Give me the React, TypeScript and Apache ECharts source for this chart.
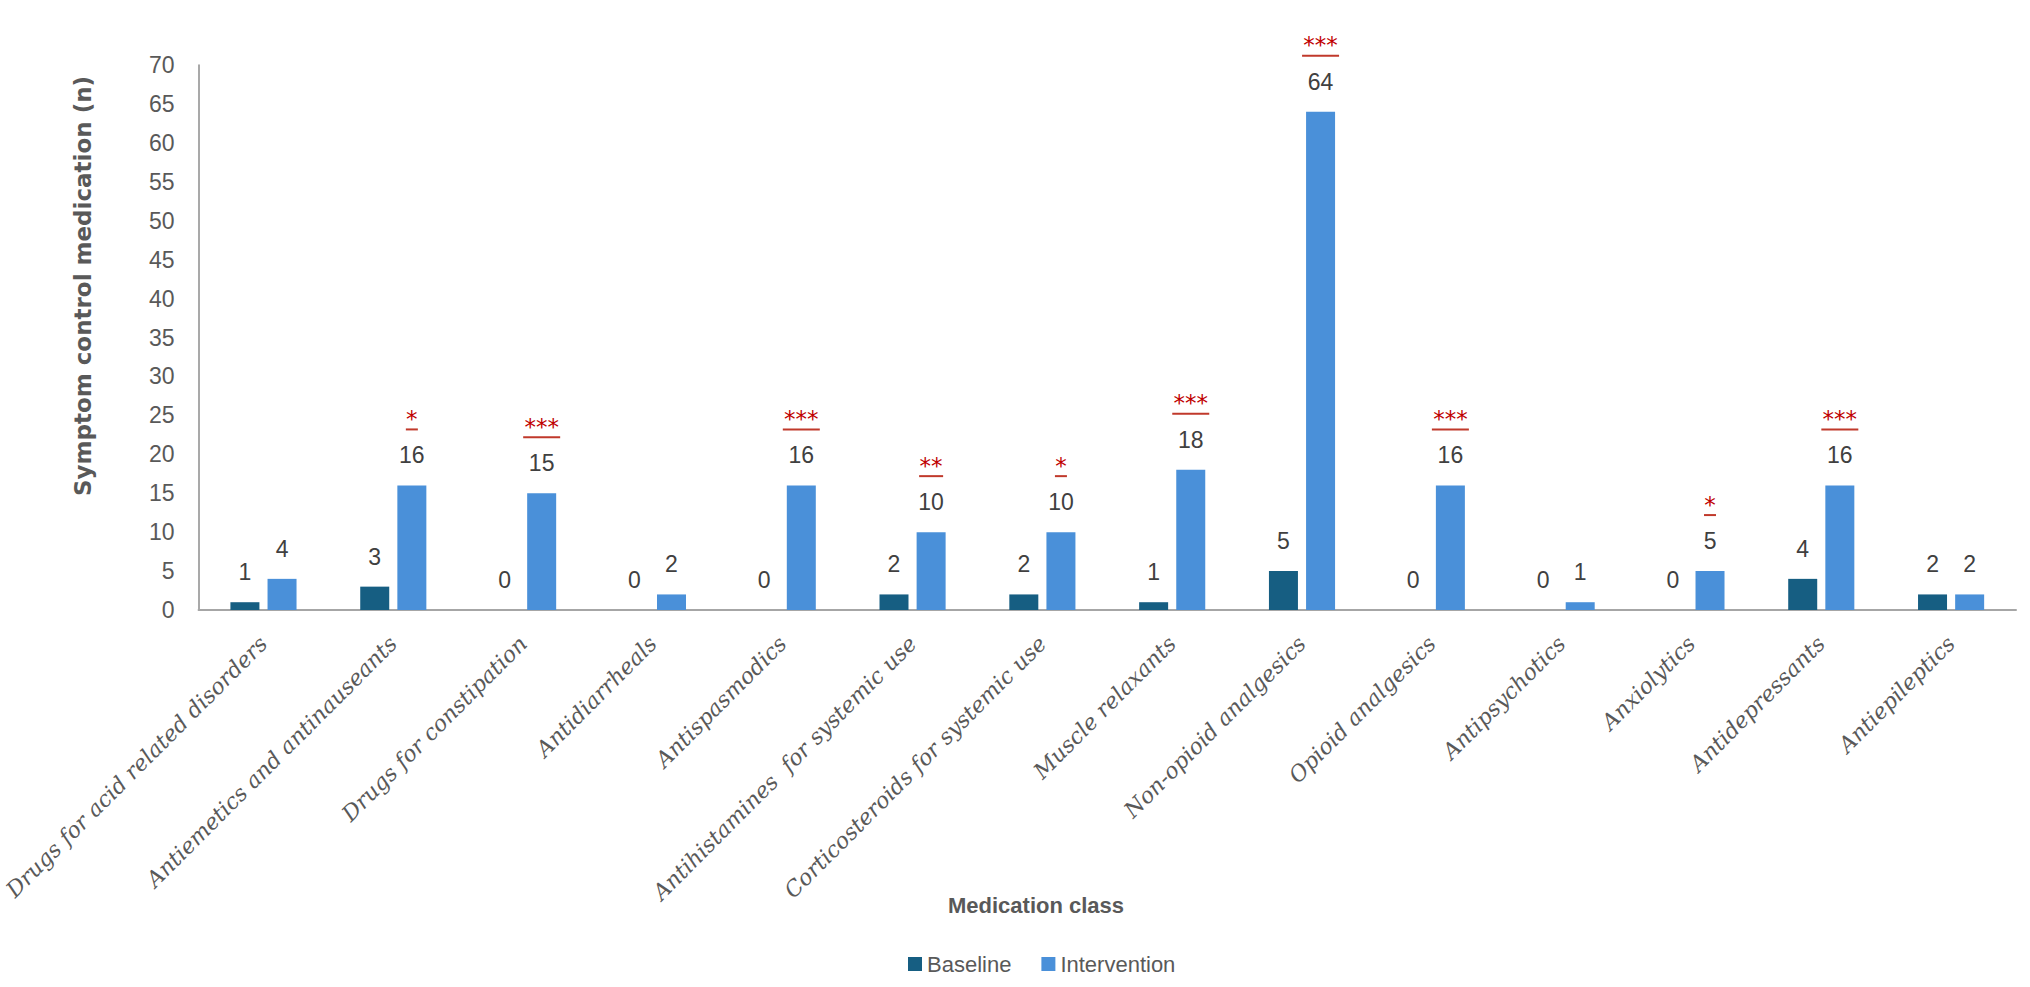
import React, { useEffect, useRef } from "react";
import * as echarts from "echarts";

const categories = [
  "Drugs for acid related disorders",
  "Antiemetics and antinauseants",
  "Drugs for constipation",
  "Antidiarrheals",
  "Antispasmodics",
  "Antihistamines  for systemic use",
  "Corticosteroids for systemic use",
  "Muscle relaxants",
  "Non-opioid analgesics",
  "Opioid analgesics",
  "Antipsychotics",
  "Anxiolytics",
  "Antidepressants",
  "Antiepileptics",
];
const baseline = [1, 3, 0, 0, 0, 2, 2, 1, 5, 0, 0, 0, 4, 2];
const intervention = [4, 16, 15, 2, 16, 10, 10, 18, 64, 16, 1, 5, 16, 2];
const significance = ["", "*", "***", "", "***", "**", "*", "***", "***", "***", "", "*", "***", ""];
const yTicks = { min: 0, max: 70, interval: 5 };

const GRAY = "#595959";
const RED = "#C00000";

const rich = {
  s: { fontFamily: "DejaVu Sans", fontSize: 23, color: RED, lineHeight: 13, align: "center" },
  u1: { width: 12, height: 2, backgroundColor: "#C0392B", lineHeight: 8, align: "center" },
  u2: { width: 24, height: 2, backgroundColor: "#C0392B", lineHeight: 8, align: "center" },
  u3: { width: 37, height: 2, backgroundColor: "#C0392B", lineHeight: 8, align: "center" },
  v: { fontFamily: "Liberation Sans", fontSize: 23, color: "#404040", lineHeight: 44, align: "center" },
};

export default function App() {
  const ref = useRef<HTMLDivElement>(null);
  useEffect(() => {
    if (!ref.current) return;
    const chart = echarts.init(ref.current, undefined, { renderer: "svg" });
    chart.setOption({
      animation: false,
      backgroundColor: "#ffffff",
      grid: { left: 194, right: 14, top: 65, bottom: 377, containLabel: false },
      legend: {
        data: ["Baseline", "Intervention"],
        left: 903,
        top: 948,
        itemWidth: 14,
        itemHeight: 14,
        itemGap: 30,
        icon: "rect",
        textStyle: { fontFamily: "Liberation Sans", fontSize: 22, color: GRAY },
      },
      xAxis: {
        type: "category",
        data: categories,
        axisLine: { show: true, lineStyle: { color: "#A6A6A6", width: 2 } },
        axisTick: { show: false },
        axisLabel: {
          interval: 0,
          rotate: 45,
          margin: 30,
          fontFamily: "DejaVu Serif",
          fontStyle: "italic",
          fontSize: 22,
          color: GRAY,
        },
      },
      yAxis: {
        type: "value",
        min: yTicks.min,
        max: yTicks.max,
        interval: yTicks.interval,
        axisLine: { show: true, lineStyle: { color: "#8C8C8C", width: 1.5 } },
        axisTick: { show: false },
        splitLine: { show: false },
        axisLabel: { margin: 24, fontFamily: "Liberation Sans", fontSize: 23, color: GRAY },
      },
      series: [
        {
          name: "Baseline",
          type: "bar",
          data: baseline,
          barWidth: 29,
          barGap: "28%",
          itemStyle: { color: "#165E82" },
          label: {
            show: true,
            position: "top",
            distance: 8,
            formatter: (p: any) => `{v|${p.value}}`,
            rich,
          },
        },
        {
          name: "Intervention",
          type: "bar",
          data: intervention,
          barWidth: 29,
          barGap: "28%",
          itemStyle: { color: "#4A90D9" },
          label: {
            show: true,
            position: "top",
            distance: 8,
            formatter: (p: any) => {
              const s = significance[p.dataIndex];
              const v = `{v|${p.value}}`;
              if (!s) return v;
              return `{s|${s}}\n{u${s.length}|}\n${v}`;
            },
            rich,
          },
        },
      ],
      graphic: [
        {
          type: "text",
          x: 83,
          y: 286,
          rotation: Math.PI / 2,
          style: {
            text: "Symptom control medication (n)",
            font: 'bold 23px "DejaVu Sans"',
            fill: GRAY,
            align: "center",
            verticalAlign: "middle",
            textAlign: "center",
            textVerticalAlign: "middle",
          },
        },
        {
          type: "text",
          x: 1036,
          y: 905,
          style: {
            text: "Medication class",
            font: 'bold 22px "Liberation Sans Narrow", "Liberation Sans", sans-serif',
            fill: GRAY,
            align: "center",
            verticalAlign: "middle",
            textAlign: "center",
            textVerticalAlign: "middle",
          },
        },
      ],
    });
    return () => chart.dispose();
  }, []);
  return (
    <div
      ref={ref}
      style={{ position: "absolute", left: 0, top: 0, width: 2030, height: 987 }}
    />
  );
}
